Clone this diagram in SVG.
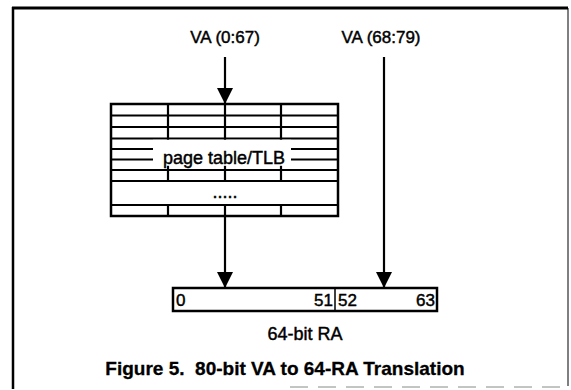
<svg xmlns="http://www.w3.org/2000/svg" width="571" height="390" viewBox="0 0 571 390">
<style>
.lbl{font-family:"Liberation Sans",Arial,sans-serif;font-size:17px;fill:#000;stroke:#000;stroke-width:0.45}
.tl{font-family:"Liberation Sans",Arial,sans-serif;font-size:18px;fill:#000;stroke:#000;stroke-width:0.45}
.cap{font-family:"Liberation Sans",Arial,sans-serif;font-size:19px;font-weight:bold;fill:#000;stroke:#000;stroke-width:0.3}
.grid{stroke:#000;stroke-width:2.2;fill:none}
.conn{stroke:#000;stroke-width:2.2;fill:none}
</style>
<defs>
<marker id="ah" viewBox="0 0 16 16" refX="16" refY="8" markerWidth="16" markerHeight="16" markerUnits="userSpaceOnUse" orient="auto">
<path d="M0,0 L16,8 L0,16 z" fill="#000"/>
</marker>
</defs>
<g id="frame">
<line x1="12" y1="8" x2="568" y2="8" stroke="#000" stroke-width="3"/>
<line x1="13" y1="7" x2="13" y2="389" stroke="#000" stroke-width="2.5"/>
<line x1="568" y1="8" x2="568" y2="386" stroke="#000" stroke-width="1"/>
<line x1="290" y1="387" x2="568" y2="387" stroke="#888" stroke-width="1" stroke-dasharray="18,10"/>
</g>
<g id="va-low"><text class="lbl" x="225" y="43" text-anchor="middle">VA (0:67)</text></g>
<g id="va-high"><text class="lbl" x="381" y="43" text-anchor="middle">VA (68:79)</text></g>
<g id="page-table">
<rect x="111" y="104" width="227" height="112" fill="#fff" stroke="#000" stroke-width="2.5"/>
<path class="grid" d="M111,115.5H338M111,127H338M111,138.5H338M111,149H338M111,159.5H338M111,170H338M111,181H338M111,205H338"/>
<path class="grid" d="M168,104V181M225,104V181M281,104V181M168,205V216M225,205V216M281,205V216"/>
<rect x="153" y="139.8" width="138" height="26" fill="#fff"/>
<text class="tl" x="224" y="164" text-anchor="middle">page table/TLB</text>
<text class="tl" x="225" y="198" text-anchor="middle">.....</text>
</g>
<g id="ra">
<rect x="173" y="288" width="264" height="23" fill="#fff" stroke="#000" stroke-width="2.5"/>
<line x1="335" y1="288" x2="335" y2="311" stroke="#000" stroke-width="1.5"/>
<text class="lbl" x="176" y="306">0</text>
<text class="lbl" x="333" y="306" text-anchor="end">51</text>
<text class="lbl" x="338" y="306">52</text>
<text class="lbl" x="435" y="306" text-anchor="end">63</text>
<text class="tl" x="305" y="340" text-anchor="middle">64-bit RA</text>
</g>
<g id="caption"><text class="cap" x="285" y="375" text-anchor="middle" xml:space="preserve">Figure 5.  80-bit VA to 64-RA Translation</text></g>
<g id="connectors">
<line class="conn" x1="225" y1="57" x2="225" y2="104" marker-end="url(#ah)"/>
<line class="conn" x1="225" y1="216" x2="225" y2="288" marker-end="url(#ah)"/>
<line class="conn" x1="384" y1="57" x2="384" y2="288" marker-end="url(#ah)"/>
</g>
</svg>
